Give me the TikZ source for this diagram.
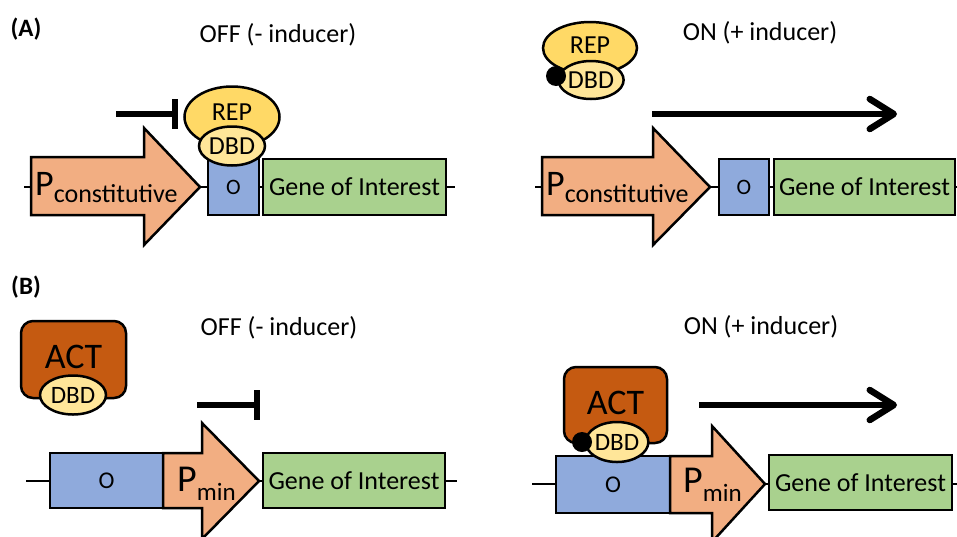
\documentclass[tikz,border=0pt]{standalone}
\usepackage{fontspec}
\setmainfont{Carlito}
\usetikzlibrary{shapes.geometric}
\usetikzlibrary{arrows.meta}

\definecolor{promcol}{HTML}{F2AE82}
\definecolor{opcol}{HTML}{8FAADC}
\definecolor{genecol}{HTML}{A9D18E}
\definecolor{repcol}{HTML}{FFD966}
\definecolor{dbdcol}{HTML}{FFE699}
\definecolor{actcol}{HTML}{C55A11}

\begin{document}
\begin{tikzpicture}
[x=1pt, y=-1pt, every node/.style={inner sep=0pt},
 part/.style={rectangle, draw=black, line width=2.5pt},
 blob/.style={ellipse, draw=black, line width=2.5pt},
 lbl/.style={font=\fontsize{26}{30}\selectfont},
 inhib/.style={line width=6.5pt, -{Bar[width=30pt]}},
 activ/.style={line width=6.5pt, -{Straight Barb[length=24pt, width=30pt, round]}}]
\useasboundingbox (0,0) rectangle (957,536);

% (A) repressor
\node (tA) [font=\bfseries\fontsize{25}{29}\selectfont] at (26,29) {(A)};
\node (offA) [lbl] at (278,35) {OFF (- inducer)};
\node (onA) [lbl] at (760,33) {ON (+ inducer)};

\coordinate (bbA1) at (24,187);
\coordinate (bbA2) at (455,187);
\draw [line width=2.5pt] (bbA1) to (bbA2);
\draw [line width=2.5pt, fill=promcol, line join=miter] (31,157) -- (144,157) -- (144,128) -- (200,187) -- (144,245) -- (144,215) -- (31,215) -- cycle;
\node (pcA) [anchor=base west, font=\fontsize{36}{36}\selectfont] at (35,195) {P\raisebox{-7pt}{\fontsize{26}{26}\selectfont constitutive}};
\node (oA) [part, fill=opcol, minimum width=51pt, minimum height=56pt, font=\fontsize{22}{26}\selectfont] at (233.5,187) {O};
\node (gA) [part, fill=genecol, minimum width=183pt, minimum height=56pt, font=\fontsize{26}{30}\selectfont] at (354.5,187) {Gene of Interest};
\node (repA) [blob, fill=repcol, minimum width=95pt, minimum height=61pt] at (232,117) {};
\node (repAt) [font=\fontsize{26}{30}\selectfont] at (232,112) {REP};
\node (dbdA) [blob, fill=dbdcol, minimum width=66pt, minimum height=39pt, font=\fontsize{26}{30}\selectfont] at (232,146) {DBD};
\coordinate (inA1) at (116,114);
\coordinate (inA2) at (178,114);
\draw [inhib] (inA1) to (inA2);

\coordinate (bbA3) at (535,187);
\coordinate (bbA4) at (957,187);
\draw [line width=2.5pt] (bbA3) to (bbA4);
\draw [line width=2.5pt, fill=promcol, line join=miter] (542,157) -- (653,157) -- (653,128) -- (710,187) -- (653,245) -- (653,215) -- (542,215) -- cycle;
\node (pcA2) [anchor=base west, font=\fontsize{36}{36}\selectfont] at (546,195) {P\raisebox{-7pt}{\fontsize{26}{26}\selectfont constitutive}};
\node (oA2) [part, fill=opcol, minimum width=50pt, minimum height=56pt, font=\fontsize{22}{26}\selectfont] at (744,187) {O};
\node (gA2) [part, fill=genecol, minimum width=181pt, minimum height=56pt, font=\fontsize{26}{30}\selectfont] at (864.5,187) {Gene of Interest};
\node (repA2) [blob, fill=repcol, minimum width=94pt, minimum height=52pt] at (590,48) {};
\node (repA2t) [font=\fontsize{26}{30}\selectfont] at (590,45) {REP};
\node (dbdA2) [blob, fill=dbdcol, minimum width=64pt, minimum height=38pt, font=\fontsize{26}{30}\selectfont] at (591,80) {DBD};
\node (indA) [circle, fill=black, minimum size=20pt] at (556,76) {};
\coordinate (arA1) at (652,114);
\coordinate (arA2) at (897,114);
\draw [activ] (arA1) to (arA2);

% (B) activator
\node (tB) [font=\bfseries\fontsize{25}{29}\selectfont] at (26,287) {(B)};
\node (offB) [lbl] at (279,328) {OFF (- inducer)};
\node (onB) [lbl] at (761,327) {ON (+ inducer)};

\node (actB) [part, rounded corners=12pt, fill=actcol, minimum width=105pt, minimum height=77pt] at (73.5,359.5) {};
\node (actBt) [font=\fontsize{36}{40}\selectfont] at (73.5,357) {ACT};
\node (dbdB) [blob, fill=dbdcol, minimum width=66pt, minimum height=39pt, font=\fontsize{25}{29}\selectfont] at (73,395) {DBD};
\coordinate (inB1) at (197,405);
\coordinate (inB2) at (260,405);
\draw [inhib] (inB1) to (inB2);

\coordinate (bbB1) at (26,481);
\coordinate (bbB2) at (457,481);
\draw [line width=2.5pt] (bbB1) to (bbB2);
\node (oB) [part, fill=opcol, minimum width=113pt, minimum height=55pt, font=\fontsize{24}{28}\selectfont] at (106.5,480.5) {O};
\draw [line width=2.5pt, fill=promcol, line join=miter] (163,453) -- (202,453) -- (202,423) -- (259,481) -- (202,539) -- (202,508) -- (163,508) -- cycle;
\node (pmB) [anchor=base west, font=\fontsize{38}{38}\selectfont] at (177,491) {P\raisebox{-9pt}{\fontsize{25}{25}\selectfont min}};
\node (gB) [part, fill=genecol, minimum width=182pt, minimum height=55pt, font=\fontsize{26}{30}\selectfont] at (354,480.5) {Gene of Interest};

\coordinate (bbB3) at (532,484);
\coordinate (bbB4) at (957,484);
\draw [line width=2.5pt] (bbB3) to (bbB4);
\node (oB2) [part, fill=opcol, minimum width=114pt, minimum height=57pt, font=\fontsize{24}{28}\selectfont] at (613,484.5) {O};
\draw [line width=2.5pt, fill=promcol, line join=miter] (670,456) -- (712,456) -- (712,426) -- (765,484) -- (712,542) -- (712,513) -- (670,513) -- cycle;
\node (pmB2) [anchor=base west, font=\fontsize{38}{38}\selectfont] at (683,492) {P\raisebox{-9pt}{\fontsize{25}{25}\selectfont min}};
\node (gB2) [part, fill=genecol, minimum width=183pt, minimum height=55pt, font=\fontsize{26}{30}\selectfont] at (860.5,482.5) {Gene of Interest};
\node (actB2) [part, rounded corners=12pt, fill=actcol, minimum width=103pt, minimum height=76pt] at (615.5,405) {};
\node (actB2t) [font=\fontsize{36}{40}\selectfont] at (615.5,403) {ACT};
\node (dbdB2) [blob, fill=dbdcol, minimum width=62pt, minimum height=40pt, font=\fontsize{25}{29}\selectfont] at (617,442) {DBD};
\node (indB) [circle, fill=black, minimum size=20pt] at (582,442) {};
\coordinate (arB1) at (699,405);
\coordinate (arB2) at (897,405);
\draw [activ] (arB1) to (arB2);
\end{tikzpicture}
\end{document}
